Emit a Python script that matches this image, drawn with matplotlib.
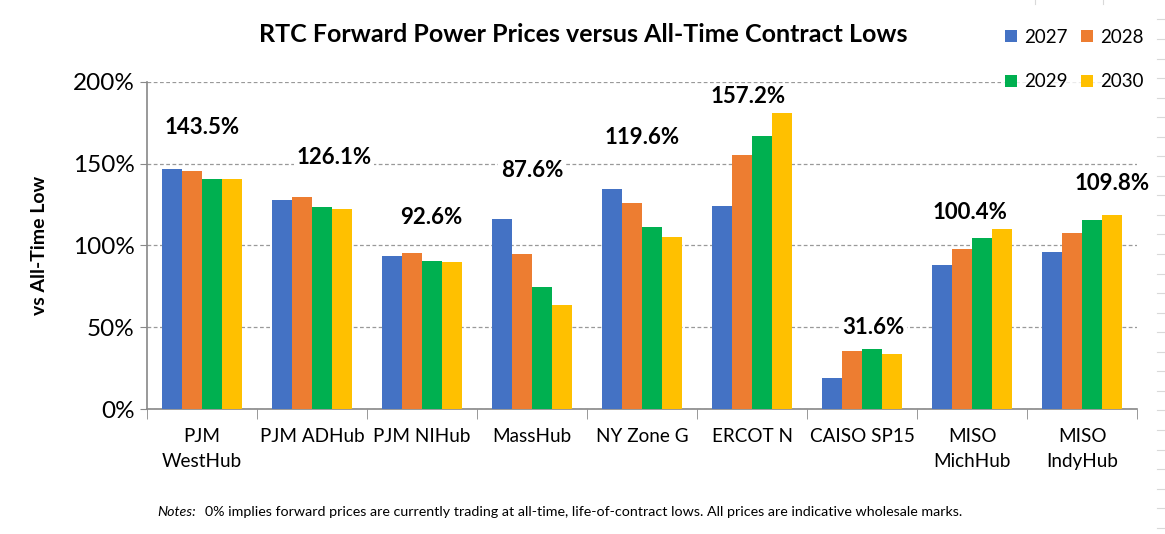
import numpy as np
import matplotlib.pyplot as plt
from matplotlib.patches import Patch
from matplotlib.lines import Line2D

# Data (% above all-time contract low)
hubs = ['PJM\nWestHub', 'PJM ADHub', 'PJM NIHub', 'MassHub', 'NY Zone G',
        'ERCOT N', 'CAISO SP15', 'MISO\nMichHub', 'MISO\nIndyHub']
years = ['2027', '2028', '2029', '2030']
v2027 = [146.8, 127.8, 93.6, 116.2, 134.5, 124.2, 19.0, 88.1, 96.0]
v2028 = [145.6, 129.7, 95.4, 94.8, 125.9, 155.4, 35.5, 97.9, 107.6]
v2029 = [140.7, 123.5, 90.5, 74.6, 111.3, 167.0, 36.7, 104.6, 115.6]
v2030 = [140.7, 122.3, 89.9, 63.6, 105.2, 181.1, 33.6, 110.1, 118.7]
avg_labels = ['143.5%', '126.1%', '92.6%', '87.6%', '119.6%',
              '157.2%', '31.6%', '100.4%', '109.8%']

# label placement (category offset, y in data units) - placed by hand in the original
label_dx = [0.0, 0.2, 0.08, 0.0, 0.0, -0.04, 0.1, -0.02, 0.27]
label_y = [172, 154, 117, 146, 166, 191, 50, 120, 138]

colors = ['#4472C4', '#ED7D31', '#00B050', '#FFC000']
font = ['Lato', 'DejaVu Sans']
plt.rcParams['font.family'] = font

fig = plt.figure(figsize=(11.65, 5.34), dpi=100)
ax = fig.add_axes([147 / 1165, 1 - 409 / 534, 990 / 1165, 327 / 534])

series = [v2027, v2028, v2029, v2030]
x = np.arange(len(hubs))
w = 0.182
for i, vals in enumerate(series):
    ax.bar(x + (i - 1.5) * w, vals, width=w, color=colors[i], zorder=3)

ax.set_xlim(-0.5, len(hubs) - 0.5)
ax.set_ylim(0, 200)
ax.set_yticks([0, 50, 100, 150, 200])
ax.set_yticklabels(['0%', '50%', '100%', '150%', '200%'], fontsize=17.5)
ax.set_xticks(x)
ax.set_xticklabels(hubs, fontsize=13.6, linespacing=1.55)
ax.tick_params(axis='x', length=0, pad=14)
ax.set_xticks(np.arange(len(hubs) + 1) - 0.5, minor=True)
ax.tick_params(axis='x', which='minor', length=7, color='#888888')
ax.tick_params(axis='y', length=5, color='#888888', pad=4)

ax.grid(axis='y', color='#999999', linestyle=(0, (3, 2)), linewidth=0.9, zorder=0)
for s in ['top', 'right']:
    ax.spines[s].set_visible(False)
for s in ['left', 'bottom']:
    ax.spines[s].set_color('#888888')
    ax.spines[s].set_linewidth(1.2)

ax.set_ylabel('vs All-Time Low', fontsize=14, fontweight='bold', labelpad=18)

for i, lab in enumerate(avg_labels):
    ax.text(x[i] + label_dx[i], label_y[i], lab, ha='center', va='center',
            fontsize=16, fontweight='bold', zorder=5,
            bbox=dict(facecolor='white', edgecolor='none', pad=2))

fig.text(583 / 1165, 1 - 35 / 534, 'RTC Forward Power Prices versus All-Time Contract Lows',
         ha='center', va='center', fontsize=18, fontweight='bold')

# legend filled column-wise, so order handles to get 2027 2028 / 2029 2030 rows
order = [0, 2, 1, 3]
handles = [Patch(facecolor=colors[k], edgecolor='none') for k in order]
leg = fig.legend(handles, [years[k] for k in order], ncol=2, loc='upper left',
                 bbox_to_anchor=(1001 / 1165, 1 - 25 / 534), fontsize=13.5, frameon=True,
                 handlelength=0.64, handleheight=0.64, handletextpad=0.37,
                 columnspacing=0.75, labelspacing=1.47, borderpad=0.2,
                 borderaxespad=0)
leg.get_frame().set_edgecolor('none')
leg.get_frame().set_facecolor('white')
leg.set_zorder(10)

# faint spreadsheet cell borders peeking in at the right edge
for k in range(27):
    yy = 1 - (19.4 + 19.55 * k) / 534
    fig.add_artist(Line2D([1157 / 1165, 1.0], [yy, yy], color='#d9d9d9', linewidth=0.8))
for xx in [1035, 1103]:
    fig.add_artist(Line2D([xx / 1165, xx / 1165], [1 - 4 / 534, 1.0], color='#d9d9d9', linewidth=0.8))

fig.text(157 / 1165, 1 - 512 / 534, 'Notes:', fontsize=10.3, style='italic',
         va='center', ha='left')
fig.text(205 / 1165, 1 - 512 / 534,
         '0% implies forward prices are currently trading at all-time, '
         'life-of-contract lows. All prices are indicative wholesale marks.',
         fontsize=10.3, va='center', ha='left')

fig.savefig('out.png', dpi=100)
